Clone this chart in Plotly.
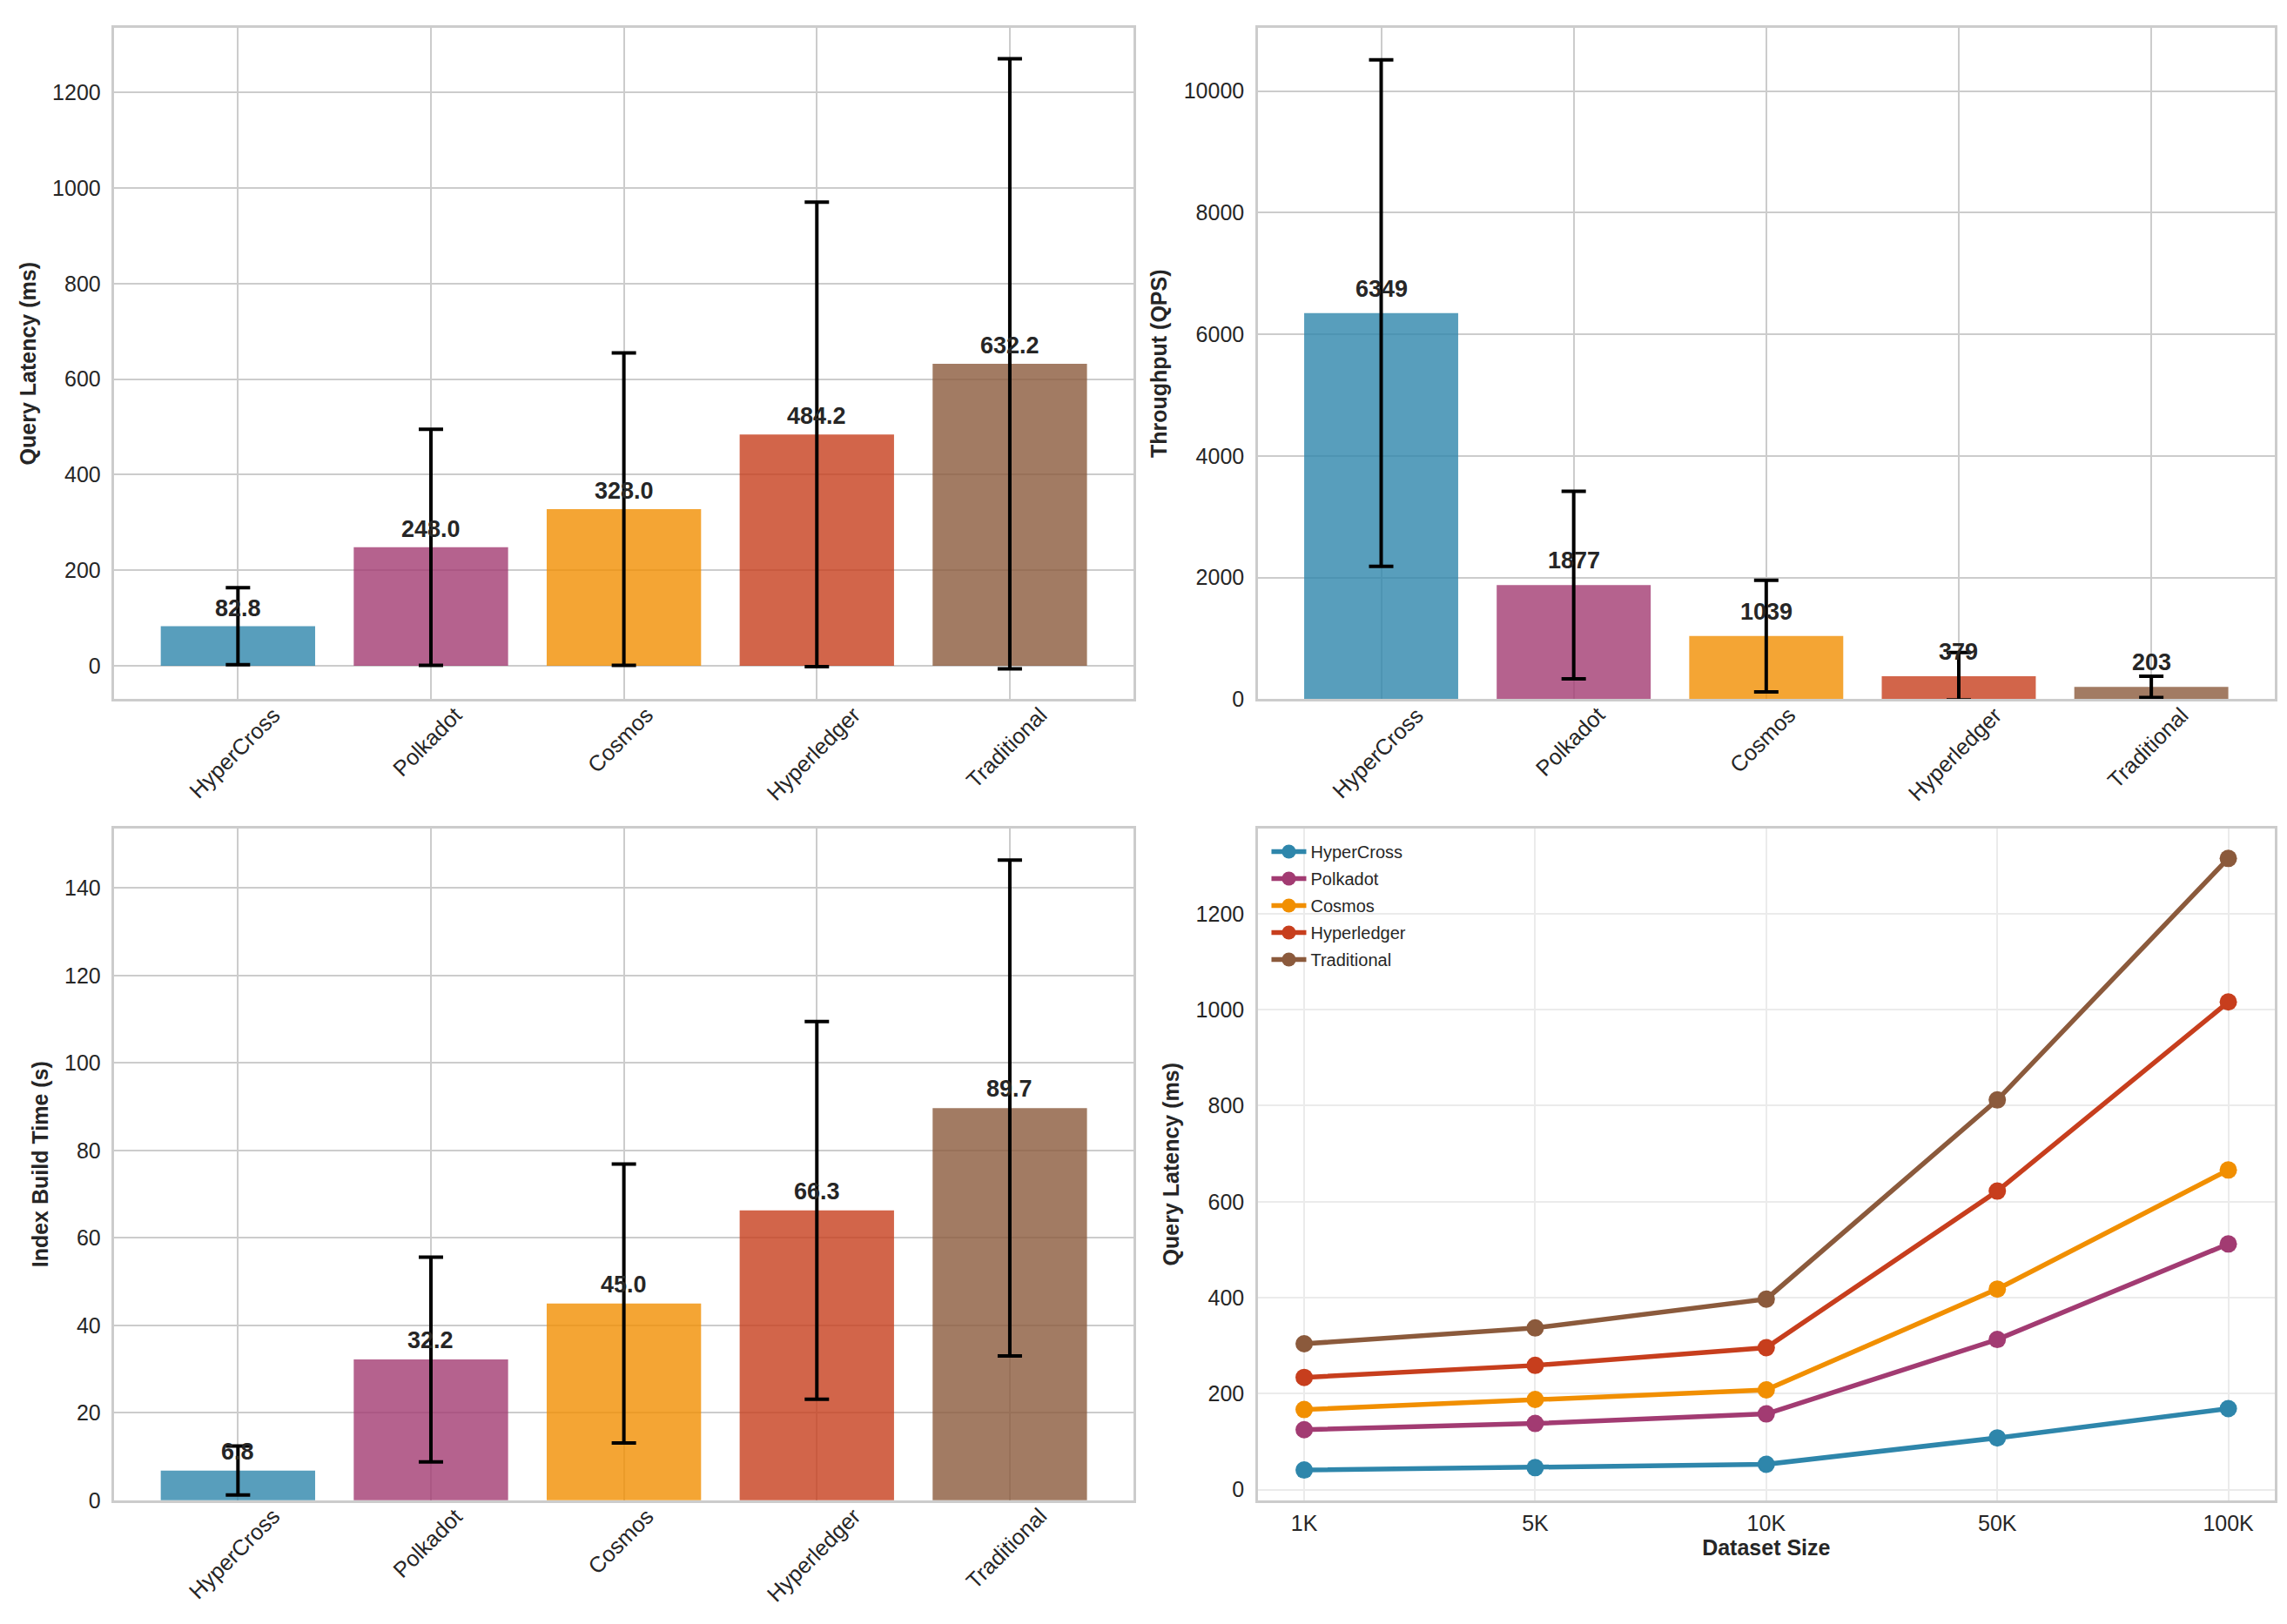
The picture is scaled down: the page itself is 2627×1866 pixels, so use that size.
import plotly.graph_objects as go

systems = ["HyperCross", "Polkadot", "Cosmos", "Hyperledger", "Traditional"]
colors = ["#2E86AB", "#A23B72", "#F18F01", "#C73E1D", "#8B5A3C"]

latency_mean = [82.8, 248.0, 328.0, 484.2, 632.2]
latency_err = [80.5, 247.0, 327.0, 486.0, 638.5]

throughput_mean = [6349, 1877, 1039, 379, 203]
throughput_err = [4165, 1543, 918, 390, 175]

build_mean = [6.8, 32.2, 45.0, 66.3, 89.7]
build_err = [5.6, 23.4, 31.9, 43.2, 56.7]

dataset_sizes = ["1K", "5K", "10K", "50K", "100K"]
scal_hypercross = [41, 46, 53, 108, 169]
scal_polkadot = [125, 138, 158, 313, 512]
scal_cosmos = [167, 188, 208, 418, 666]
scal_hyperledger = [234, 259, 296, 622, 1016]
scal_traditional = [304, 337, 397, 812, 1315]
scal_series = [scal_hypercross, scal_polkadot, scal_cosmos, scal_hyperledger, scal_traditional]

W, H = 2627, 1866
FONT = "Arial, Liberation Sans, sans-serif"
TXT = "#262626"


def rgba(hx, a):
    hx = hx.lstrip("#")
    r, g, b = int(hx[0:2], 16), int(hx[2:4], 16), int(hx[4:6], 16)
    return f"rgba({r},{g},{b},{a})"


fig = go.Figure()

dom_x = [[0.047, 0.4925], [0.547, 0.9915]]
dom_y = [[0.5705, 0.987], [0.0735, 0.4905]]

panels = [
    dict(ax="", mean=latency_mean, err=latency_err, title="Query Latency (ms)",
         yr=[-70, 1335], dtick=200, dx=0, dy=0, shift=4),
    dict(ax="2", mean=throughput_mean, err=throughput_err, title="Throughput (QPS)",
         yr=[0, 11040], dtick=2000, dx=1, dy=0, shift=11),
    dict(ax="3", mean=build_mean, err=build_err, title="Index Build Time (s)",
         yr=[0, 153.7], dtick=20, dx=0, dy=1, shift=5),
]

annotations = []

for p in panels:
    ax = p["ax"]
    xa = "x" + ax
    ya = "y" + ax
    fig.add_trace(go.Bar(
        x=systems, y=p["mean"], width=0.8,
        marker=dict(color=[rgba(c, 0.8) for c in colors], line=dict(width=0)),
        error_y=dict(type="data", array=p["err"], visible=True, color="black",
                     thickness=4, width=14),
        xaxis=xa, yaxis=ya, showlegend=False,
    ))
    fmt_int = p["ax"] == "2"
    for s, v in zip(systems, p["mean"]):
        annotations.append(dict(
            x=s, y=v, xref=xa, yref=ya, text=(f"{v:.0f}" if fmt_int else f"{v:.1f}"),
            showarrow=False, yanchor="bottom", xanchor="center", yshift=p["shift"],
            font=dict(family=FONT, size=27, color=TXT, weight="bold"),
        ))
        annotations.append(dict(
            x=s, y=0, xref=xa, yref=ya + " domain", text=s, textangle=-45,
            showarrow=False, yanchor="top", xanchor="center", yshift=-1,
            xshift=-4,
            font=dict(family=FONT, size=25.5, color=TXT),
        ))

# Scalability line chart
for name, col, vals in zip(systems, colors, scal_series):
    fig.add_trace(go.Scatter(
        x=dataset_sizes, y=vals, mode="lines+markers", name=name,
        line=dict(color=col, width=5.5), marker=dict(color=col, size=20),
        xaxis="x4", yaxis="y4", legendgroup=name,
    ))

axis_common = dict(
    showline=True, mirror=True, linecolor="#cccccc", linewidth=2.5,
    ticks="", zeroline=False, tickfont=dict(family=FONT, size=25, color=TXT),
)

layout = dict(
    width=W, height=H, margin=dict(l=0, r=0, t=0, b=0),
    paper_bgcolor="white", plot_bgcolor="white",
    font=dict(family=FONT, color=TXT),
    bargap=0.2,
    annotations=annotations,
    showlegend=True,
    legend=dict(x=dom_x[1][0] + 0.004, y=dom_y[1][1] - 0.004, xanchor="left", yanchor="top",
                font=dict(family=FONT, size=20, color=TXT), bgcolor="rgba(0,0,0,0)",
                tracegroupgap=2, itemwidth=40),
)

for p in panels:
    ax = p["ax"]
    xkey = "xaxis" + ax
    ykey = "yaxis" + ax
    layout[xkey] = dict(axis_common, domain=dom_x[p["dx"]], anchor="y" + ax,
                        range=[-0.64, 4.64], showgrid=True, gridcolor="#cccccc",
                        gridwidth=2, showticklabels=False, type="category")
    layout[ykey] = dict(axis_common, domain=dom_y[p["dy"]], anchor="x" + ax,
                        range=p["yr"], dtick=p["dtick"], tickformat="d", showgrid=True,
                        gridcolor="#cccccc", gridwidth=2, ticklabelstandoff=8,
                        title=dict(text=p["title"], standoff=12,
                                   font=dict(family=FONT, size=25, color=TXT, weight="bold")))

layout["xaxis4"] = dict(axis_common, domain=dom_x[1], anchor="y4", type="category",
                        range=[-0.2, 4.2], showgrid=True, gridcolor="#ebebeb", gridwidth=2,
                        ticklabelstandoff=2,
                        title=dict(text="Dataset Size", standoff=4,
                                   font=dict(family=FONT, size=25, color=TXT, weight="bold")))
layout["yaxis4"] = dict(axis_common, domain=dom_y[1], anchor="x4", range=[-22, 1378],
                        dtick=200, tickformat="d", showgrid=True, gridcolor="#ebebeb", gridwidth=2,
                        ticklabelstandoff=8,
                        title=dict(text="Query Latency (ms)", standoff=12,
                                   font=dict(family=FONT, size=25, color=TXT, weight="bold")))

fig.update_layout(**layout)
fig.write_html("out.html")
